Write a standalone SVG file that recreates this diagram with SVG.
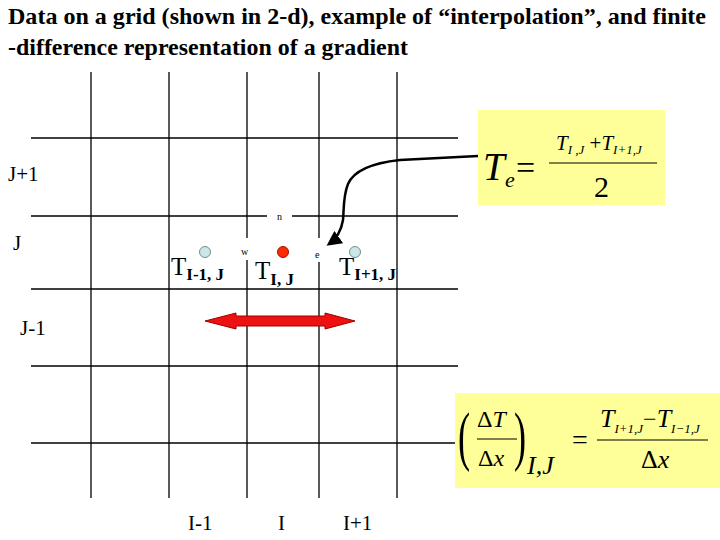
<svg xmlns="http://www.w3.org/2000/svg" width="720" height="540" viewBox="0 0 720 540">
<style>
.title{font-family:"Liberation Serif","DejaVu Serif",serif;font-weight:bold;font-size:23px;fill:#000}
.lab{font-family:"Liberation Serif","DejaVu Serif",serif;font-size:21px;fill:#000}
.grid{stroke:#000;stroke-width:1.3;fill:none}
.small{font-family:"Liberation Serif","DejaVu Serif",serif;font-size:10px;fill:#000}
.bigT{font-family:"Liberation Serif","DejaVu Serif",serif;font-size:25px;fill:#000}
.sub{font-family:"Liberation Serif","DejaVu Serif",serif;font-size:17px;font-weight:bold;fill:#000}
.m{font-family:"Liberation Serif","DejaVu Serif",serif;fill:#000}
.it{font-style:italic}
.box{fill:#ffff99}
.blue{fill:#cce6e6;stroke:#6f8f8f;stroke-width:1}
</style>
<defs>
<marker id="ah" viewBox="0 0 10 10" refX="8" refY="5" markerWidth="6" markerHeight="6" orient="auto" markerUnits="strokeWidth">
<path d="M0,0 L10,5 L0,10 z" fill="#000"/>
</marker>
</defs>
<g id="title">
<text class="title" x="8" y="24" textLength="698" lengthAdjust="spacingAndGlyphs">Data on a grid (shown in 2-d), example of “interpolation”, and finite</text>
<text class="title" x="8" y="55" textLength="400" lengthAdjust="spacingAndGlyphs">-difference representation of a gradient</text>
</g>
<g id="grid">
<line class="grid" x1="31" y1="138" x2="458" y2="138"/>
<line class="grid" x1="31" y1="216" x2="267" y2="216"/>
<line class="grid" x1="292" y1="216" x2="458" y2="216"/>
<line class="grid" x1="31" y1="289" x2="458" y2="289"/>
<line class="grid" x1="31" y1="366" x2="458" y2="366"/>
<line class="grid" x1="31" y1="443" x2="458" y2="443"/>
<line class="grid" x1="91" y1="72" x2="91" y2="498"/>
<line class="grid" x1="169" y1="72" x2="169" y2="498"/>
<line class="grid" x1="247" y1="72" x2="247" y2="238"/>
<line class="grid" x1="247" y1="260" x2="247" y2="498"/>
<line class="grid" x1="319" y1="72" x2="319" y2="238"/>
<line class="grid" x1="319" y1="262" x2="319" y2="498"/>
<line class="grid" x1="397" y1="72" x2="397" y2="498"/>
</g>
<g id="axis-labels">
<text class="lab" x="8" y="181">J+1</text>
<text class="lab" x="13" y="250">J</text>
<text class="lab" x="20" y="335">J-1</text>
<text class="lab" x="188" y="530">I-1</text>
<text class="lab" x="278" y="530">I</text>
<text class="lab" x="343" y="530">I+1</text>
<text class="small" x="277" y="220">n</text>
<text class="small" x="241" y="255">w</text>
<text class="small" x="315" y="258">e</text>
</g>
<g id="node-im1">
<circle class="blue" cx="205" cy="252" r="5.5"/>
<text x="171" y="275"><tspan class="bigT">T</tspan><tspan class="sub" dy="5">I-1, J</tspan></text>
</g>
<g id="node-i">
<circle cx="283" cy="252" r="5.5" fill="#ff2a00" stroke="#a01000" stroke-width="1"/>
<text x="255" y="279"><tspan class="bigT">T</tspan><tspan class="sub" dy="6">I, J</tspan></text>
</g>
<g id="node-ip1">
<circle class="blue" cx="355" cy="252" r="5.5"/>
<text x="339" y="275"><tspan class="bigT">T</tspan><tspan class="sub" dy="5">I+1, J</tspan></text>
</g>
<g id="eq1">
<rect class="box" x="478" y="110" width="187" height="95"/>
<text class="m it" x="483" y="180" font-size="39">T</text>
<text class="m it" x="505" y="187" font-size="22">e</text>
<text class="m" x="516" y="179" font-size="34">=</text>
<line x1="549" y1="163" x2="657" y2="163" stroke="#000" stroke-width="1.2"/>
<text class="m it" x="556" y="150" font-size="21">T<tspan font-size="13" dy="4">I ,J</tspan><tspan font-size="21" font-style="normal" dy="-4"> +</tspan>T<tspan font-size="13" dy="4">I+1,J</tspan></text>
<text class="m" x="594" y="197" font-size="30">2</text>
</g>
<g id="eq2">
<rect class="box" x="455" y="393" width="265" height="95"/>
<g transform="translate(458,458) scale(0.55,1)"><text class="m" x="0" y="0" font-size="66">(</text></g>
<text class="m" x="477" y="427" font-size="24">Δ<tspan font-style="italic">T</tspan></text>
<line x1="477" y1="439" x2="517" y2="439" stroke="#000" stroke-width="1.2"/>
<text class="m" x="478" y="466" font-size="24">Δ<tspan font-style="italic">x</tspan></text>
<g transform="translate(514,458) scale(0.55,1)"><text class="m" x="0" y="0" font-size="66">)</text></g>
<text class="m it" x="527" y="474" font-size="26">I,J</text>
<text class="m" x="572" y="449" font-size="28">=</text>
<text class="m it" x="600" y="427" font-size="26">T<tspan font-size="13" dy="6">I+1,J</tspan><tspan font-size="24" font-style="normal" dy="-6">−</tspan>T<tspan font-size="13" dy="6">I−1,J</tspan></text>
<line x1="597" y1="440" x2="708" y2="440" stroke="#000" stroke-width="1.2"/>
<text class="m" x="641" y="468" font-size="26">Δ<tspan font-style="italic">x</tspan></text>
</g>
<g id="connectors">
<path d="M478,156 L400,160 C372,163 354,170 348,184 C343,196 344,210 343,220 C341,232 336,239 329,244" fill="none" stroke="#000" stroke-width="2.5" marker-end="url(#ah)"/>
<path d="M205,321 L236,313 L236,316 L325,316 L325,313 L355,321 L325,329 L325,326 L236,326 L236,329 Z" fill="#ee1111" stroke="#a00000" stroke-width="1"/>
</g>
</svg>
